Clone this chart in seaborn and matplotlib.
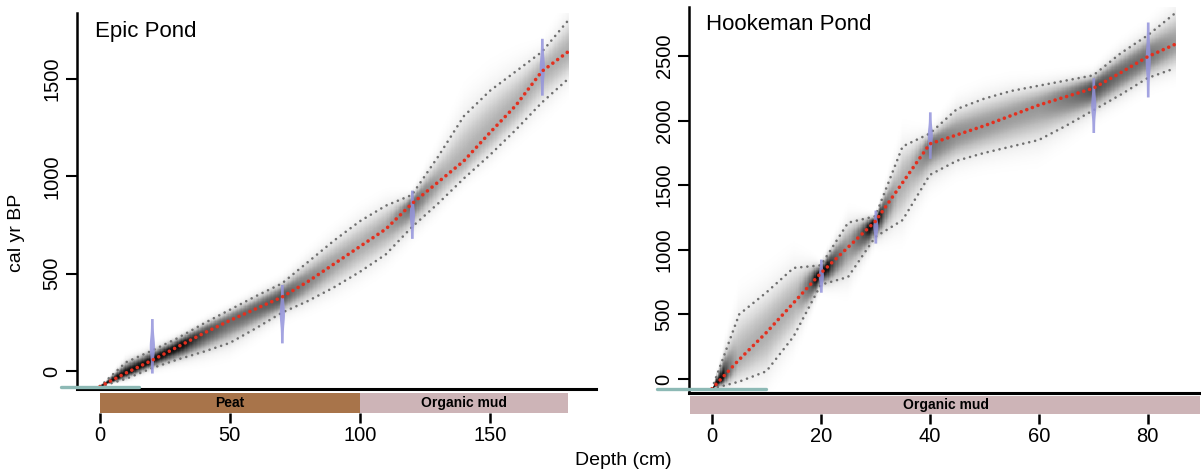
"""Bacon-style age-depth models for Epic Pond and Hookeman Pond."""

import matplotlib

matplotlib.use("Agg")
import matplotlib.pyplot as plt
import numpy as np
import pandas as pd
import seaborn as sns


# Epic Pond model (depth cm, cal yr BP)
EPIC_DEPTH = [0, 10, 20, 30, 40, 50, 60, 70, 80, 90, 100, 110, 120, 130, 140, 150, 160, 170, 180]
EPIC_MEAN = [-80, -10, 55, 125, 195, 260, 320, 380, 460, 550, 640, 730, 860, 970, 1080, 1225, 1365, 1540, 1640]
EPIC_LOWER = [-80, -40, 15, 60, 100, 145, 220, 300, 360, 430, 510, 600, 740, 860, 990, 1110, 1240, 1380, 1500]
EPIC_UPPER = [-80, 45, 105, 170, 245, 315, 385, 450, 560, 670, 770, 850, 905, 1100, 1310, 1440, 1540, 1640, 1800]
EPIC_DATE_DEPTH = [20, 70, 120, 170]
EPIC_DATE_AGE = [130, 295, 806, 1564]
EPIC_DATE_ERR = [70, 75, 62, 73]
EPIC_SURFACE = [-15, 15, -80]
EPIC_FACIES = ["Peat", "Organic mud"]
EPIC_FACIES_TOP = [0, 100]
EPIC_FACIES_BOTTOM = [100, 180]
EPIC_XTICKS = [0, 50, 100, 150]
EPIC_YTICKS = [0, 500, 1000, 1500]

# Hookeman Pond model
HOOK_DEPTH = [0, 5, 10, 15, 20, 25, 30, 35, 40, 45, 50, 55, 60, 65, 70, 75, 80, 85]
HOOK_MEAN = [-75, 150, 360, 590, 820, 1020, 1220, 1520, 1820, 1890, 1960, 2040, 2120, 2185, 2250, 2370, 2495, 2590]
HOOK_LOWER = [-75, -20, 60, 330, 730, 790, 1100, 1230, 1580, 1690, 1750, 1800, 1850, 1960, 2080, 2200, 2330, 2405]
HOOK_UPPER = [-75, 500, 670, 860, 880, 1210, 1260, 1800, 1900, 2090, 2170, 2230, 2270, 2310, 2350, 2520, 2660, 2830]
HOOK_DATE_DEPTH = [20, 30, 40, 70, 80]
HOOK_DATE_AGE = [800, 1180, 1888, 2120, 2473]
HOOK_DATE_ERR = [64, 64, 90, 106, 145]
HOOK_SURFACE = [-10, 10, -77]
HOOK_FACIES = ["Organic mud"]
HOOK_FACIES_TOP = [-4]
HOOK_FACIES_BOTTOM = [90]
HOOK_XTICKS = [0, 20, 40, 60, 80]
HOOK_YTICKS = [0, 500, 1000, 1500, 2000, 2500]

FACIES_COLOURS = {"Peat": "#A8744A", "Organic mud": "#CDB4B7"}
DATE_COLOUR = "#9494DC"
FONT = "Liberation Sans"


def density_field(depth, mean, lower, upper, ylim):
    d = np.linspace(depth[0], depth[-1], 360)
    m = np.interp(d, depth, mean)
    lo = np.interp(d, depth, lower)
    up = np.interp(d, depth, upper)
    ages = np.linspace(ylim[0], ylim[1], 700)
    a = ages[:, None]
    sd_up = np.maximum((up - m) / 1.45, 6)
    sd_lo = np.maximum((m - lo) / 1.45, 6)
    z = np.where(a >= m, (a - m) / sd_up, (a - m) / sd_lo)
    width = np.maximum(up - lo, 1)
    strength = np.clip(np.median(width) * 0.55 / width, 0.42, 0.95)
    return d, ages, np.exp(-0.5 * np.abs(z) ** 2.2) * strength


def draw_core(fig, main_rect, bar_rect, name, depth, mean, lower, upper,
              date_depth, date_age, date_err, surface, facies, top, bottom,
              xticks, yticks, xlim, ylim, title_xy):
    ax = fig.add_axes(main_rect)
    d, ages, dens = density_field(depth, mean, lower, upper, ylim)
    ax.pcolormesh(d, ages, dens, cmap="Greys", vmin=0, vmax=1, shading="auto",
                  zorder=1, rasterized=True)

    frame = pd.DataFrame({"depth": depth, "mean": mean, "lower": lower, "upper": upper})
    for col in ["lower", "upper"]:
        sns.lineplot(data=frame, x="depth", y=col, ax=ax, color="#707070",
                     linewidth=1.9, linestyle=(0, (0.01, 2.3)),
                     dash_capstyle="round", zorder=2)

    # calibrated dates as thin vertical distributions
    for dd, age, err in zip(date_depth, date_age, date_err):
        yy = np.linspace(age - 2 * err, age + 2 * err, 80)
        half = (xlim[1] - xlim[0]) * (0.0026 + 0.0024 * np.exp(-0.5 * ((yy - age) / (0.6 * err)) ** 2))
        ax.fill_betweenx(yy, dd - half, dd + half, color=DATE_COLOUR, alpha=0.85,
                         linewidth=0, zorder=3)

    sns.lineplot(data=frame, x="depth", y="mean", ax=ax, color="#E3301F",
                 linewidth=2.6, linestyle=(0, (0.01, 1.65)),
                 dash_capstyle="round", zorder=4)

    ax.plot(surface[:2], [surface[2]] * 2, color="#8DB9B5", linewidth=2.4,
            clip_on=False, zorder=5)

    ax.set_xlim(xlim)
    ax.set_ylim(ylim)
    ax.set_xlabel("")
    ax.set_ylabel("")
    ax.set_xticks([])
    ax.set_yticks(yticks)
    ax.set_yticklabels([str(t) for t in yticks], rotation=90, va="center",
                       fontsize=14.5, family=FONT)
    ax.tick_params(axis="y", left=True, length=8, width=1.5, pad=3,
                   direction="out", color="black", labelcolor="black")
    for side in ["top", "right"]:
        ax.spines[side].set_visible(False)
    ax.spines["left"].set_linewidth(1.8)
    ax.spines["bottom"].set_linewidth(2.2)
    ax.spines["left"].set_color("black")
    ax.spines["bottom"].set_color("black")
    ax.text(title_xy[0], title_xy[1], name, transform=ax.transAxes, color="black",
            fontsize=16, family=FONT, va="center", ha="left")

    bar = fig.add_axes(bar_rect)
    for label, t, b in zip(facies, top, bottom):
        bar.barh(0, b - t, left=t, height=1, color=FACIES_COLOURS[label],
                 edgecolor="none")
        bar.text((t + b) / 2, 0, label, ha="center", va="center", color="black",
                 fontsize=10, fontweight="bold", family=FONT)
    bar.set_xlim(xlim)
    bar.set_ylim(-0.5, 0.5)
    bar.set_yticks([])
    bar.set_xticks(xticks)
    bar.set_xticklabels([str(t) for t in xticks], fontsize=14.5, family=FONT)
    bar.tick_params(axis="x", bottom=True, length=7, width=1.8, pad=2,
                    direction="out", color="black", labelcolor="black")
    for side in bar.spines:
        bar.spines[side].set_visible(False)
    bar.patch.set_alpha(0)
    return ax


def main() -> None:
    sns.set_style("white")
    plt.rcParams["font.family"] = [FONT, "DejaVu Sans"]
    plt.rcParams["text.color"] = "black"
    fig = plt.figure(figsize=(12.01, 4.71), dpi=100)

    draw_core(fig, [0.0641, 0.1741, 0.4321, 0.7983], [0.0641, 0.1231, 0.4321, 0.0425],
              "Epic Pond", EPIC_DEPTH, EPIC_MEAN, EPIC_LOWER, EPIC_UPPER,
              EPIC_DATE_DEPTH, EPIC_DATE_AGE, EPIC_DATE_ERR, EPIC_SURFACE,
              EPIC_FACIES, EPIC_FACIES_TOP, EPIC_FACIES_BOTTOM,
              EPIC_XTICKS, EPIC_YTICKS, (-8.8, 190.8), (-92, 1840), (0.035, 0.95))

    draw_core(fig, [0.5737, 0.1656, 0.4255, 0.8195], [0.5737, 0.121, 0.4255, 0.038],
              "Hookeman Pond", HOOK_DEPTH, HOOK_MEAN, HOOK_LOWER, HOOK_UPPER,
              HOOK_DATE_DEPTH, HOOK_DATE_AGE, HOOK_DATE_ERR, HOOK_SURFACE,
              HOOK_FACIES, HOOK_FACIES_TOP, HOOK_FACIES_BOTTOM,
              HOOK_XTICKS, HOOK_YTICKS, (-4.2, 89.6), (-108, 2879), (0.034, 0.955))

    fig.text(0.519, 0.023, "Depth (cm)", ha="center", va="center", fontsize=14)
    fig.text(0.014, 0.505, "cal yr BP", ha="center", va="center", fontsize=14,
             rotation=90)
    fig.savefig("out.png", dpi=100)
    plt.close(fig)


if __name__ == "__main__":
    main()
